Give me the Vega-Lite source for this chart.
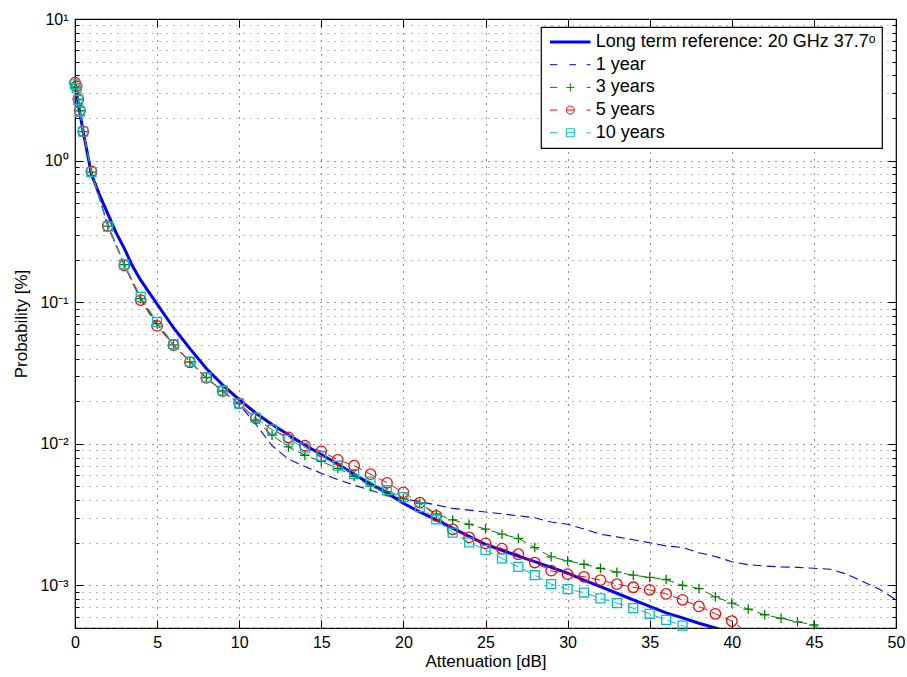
{
  "$schema": "https://vega.github.io/schema/vega-lite/v6.json",
  "width": 821,
  "height": 609,
  "autosize": {"type": "none"},
  "padding": {"left": 75, "top": 19, "right": 11, "bottom": 49},
  "background": "white",
  "config": {
    "font": "Liberation Sans",
    "view": {"stroke": "#000", "strokeWidth": 1.2},
    "axis": {
      "labelFont": "Liberation Sans", "labelFontSize": 16, "labelColor": "#000",
      "titleFont": "Liberation Sans", "titleFontSize": 17, "titleFontWeight": "normal", "titleColor": "#000",
      "tickColor": "#000", "tickWidth": 1, "domain": false, "labelFlush": false, "labelOverlap": false,
      "gridColor": "#222", "gridDash": [1, 6], "gridWidth": 1
    },
    "legend": {
      "orient": "none", "legendX": 466, "legendY": 8,
      "padding": 6, "strokeColor": "#000", "fillColor": "#fff", "strokeWidth": 1.2,
      "symbolSize": 324, "rowPadding": 4.7,
      "labelFont": "Liberation Sans", "labelFontSize": 18, "labelColor": "#000", "labelOffset": 30.7, "labelLimit": 500
    }
  },
  "datasets": {
    "d": [
      {"series":"ref","att":0,"prob":3.4},{"series":"ref","att":0.5,"prob":1.6},{"series":"ref","att":1,"prob":0.8},{"series":"ref","att":1.5,"prob":0.57},{"series":"ref","att":2,"prob":0.42},{"series":"ref","att":2.5,"prob":0.31},{"series":"ref","att":3,"prob":0.24},{"series":"ref","att":3.5,"prob":0.18},{"series":"ref","att":4,"prob":0.143},{"series":"ref","att":5,"prob":0.097},{"series":"ref","att":6,"prob":0.066},{"series":"ref","att":7,"prob":0.047},{"series":"ref","att":8,"prob":0.034},{"series":"ref","att":9,"prob":0.026},{"series":"ref","att":10,"prob":0.0205},{"series":"ref","att":11,"prob":0.0165},{"series":"ref","att":12,"prob":0.0137},{"series":"ref","att":13,"prob":0.0116},{"series":"ref","att":14,"prob":0.0098},{"series":"ref","att":15,"prob":0.0084},{"series":"ref","att":16,"prob":0.0072},{"series":"ref","att":17,"prob":0.0061},{"series":"ref","att":18,"prob":0.0052},{"series":"ref","att":19,"prob":0.0045},{"series":"ref","att":20,"prob":0.0038},{"series":"ref","att":21,"prob":0.0033},{"series":"ref","att":22,"prob":0.0029},{"series":"ref","att":23,"prob":0.00254},{"series":"ref","att":24,"prob":0.00222},{"series":"ref","att":25,"prob":0.00195},{"series":"ref","att":26,"prob":0.00177},{"series":"ref","att":27,"prob":0.00161},{"series":"ref","att":28,"prob":0.00147},{"series":"ref","att":29,"prob":0.00134},{"series":"ref","att":30,"prob":0.00122},{"series":"ref","att":31,"prob":0.00109},{"series":"ref","att":32,"prob":0.00098},{"series":"ref","att":33,"prob":0.00088},{"series":"ref","att":34,"prob":0.00079},{"series":"ref","att":35,"prob":0.00071},{"series":"ref","att":36,"prob":0.00064},{"series":"ref","att":37,"prob":0.00059},{"series":"ref","att":38,"prob":0.00054},{"series":"ref","att":39,"prob":0.0005},{"series":"ref","att":40,"prob":0.00046},

      {"series":"1y","att":0,"prob":3.5},{"series":"1y","att":0.1,"prob":3.3},{"series":"1y","att":0.2,"prob":2.7},{"series":"1y","att":0.3,"prob":2.25},{"series":"1y","att":0.5,"prob":1.6},{"series":"1y","att":1,"prob":0.83},{"series":"1y","att":2,"prob":0.35},{"series":"1y","att":3,"prob":0.186},{"series":"1y","att":4,"prob":0.106},{"series":"1y","att":5,"prob":0.07},{"series":"1y","att":6,"prob":0.05},{"series":"1y","att":7,"prob":0.038},{"series":"1y","att":8,"prob":0.0292},{"series":"1y","att":9,"prob":0.0235},{"series":"1y","att":10,"prob":0.019},{"series":"1y","att":11,"prob":0.0138},{"series":"1y","att":12,"prob":0.0097},{"series":"1y","att":13,"prob":0.0078},{"series":"1y","att":14,"prob":0.0069},{"series":"1y","att":15,"prob":0.0062},{"series":"1y","att":16,"prob":0.0056},{"series":"1y","att":17,"prob":0.0051},{"series":"1y","att":18,"prob":0.0047},{"series":"1y","att":19,"prob":0.0043},{"series":"1y","att":20,"prob":0.0041},{"series":"1y","att":21,"prob":0.0039},{"series":"1y","att":22,"prob":0.0037},{"series":"1y","att":23,"prob":0.0035},{"series":"1y","att":24,"prob":0.0034},{"series":"1y","att":25,"prob":0.0033},{"series":"1y","att":26,"prob":0.0032},{"series":"1y","att":27,"prob":0.0031},{"series":"1y","att":28,"prob":0.003},{"series":"1y","att":29,"prob":0.0028},{"series":"1y","att":30,"prob":0.0027},{"series":"1y","att":31,"prob":0.0025},{"series":"1y","att":32,"prob":0.0023},{"series":"1y","att":33,"prob":0.0022},{"series":"1y","att":34,"prob":0.0021},{"series":"1y","att":35,"prob":0.002},{"series":"1y","att":36,"prob":0.0019},{"series":"1y","att":37,"prob":0.00185},{"series":"1y","att":38,"prob":0.0017},{"series":"1y","att":39,"prob":0.0016},{"series":"1y","att":40,"prob":0.00147},{"series":"1y","att":41,"prob":0.0014},{"series":"1y","att":42,"prob":0.00137},{"series":"1y","att":43,"prob":0.00135},{"series":"1y","att":44,"prob":0.00134},{"series":"1y","att":45,"prob":0.00132},{"series":"1y","att":46,"prob":0.0013},{"series":"1y","att":47,"prob":0.0012},{"series":"1y","att":48,"prob":0.00106},{"series":"1y","att":49,"prob":0.00094},{"series":"1y","att":50,"prob":0.00079},

      {"series":"3y","att":0,"prob":3.5},{"series":"3y","att":0.1,"prob":3.3},{"series":"3y","att":0.2,"prob":2.7},{"series":"3y","att":0.3,"prob":2.25},{"series":"3y","att":0.5,"prob":1.6},{"series":"3y","att":1,"prob":0.83},{"series":"3y","att":2,"prob":0.344},{"series":"3y","att":3,"prob":0.184},{"series":"3y","att":4,"prob":0.106},{"series":"3y","att":5,"prob":0.0705},{"series":"3y","att":6,"prob":0.05},{"series":"3y","att":7,"prob":0.0378},{"series":"3y","att":8,"prob":0.0293},{"series":"3y","att":9,"prob":0.0236},{"series":"3y","att":10,"prob":0.0192},{"series":"3y","att":11,"prob":0.0147},{"series":"3y","att":12,"prob":0.0115},{"series":"3y","att":13,"prob":0.0095},{"series":"3y","att":14,"prob":0.0083},{"series":"3y","att":15,"prob":0.0075},{"series":"3y","att":16,"prob":0.0067},{"series":"3y","att":17,"prob":0.0059},{"series":"3y","att":18,"prob":0.005},{"series":"3y","att":19,"prob":0.0046},{"series":"3y","att":20,"prob":0.0041},{"series":"3y","att":21,"prob":0.0038},{"series":"3y","att":22,"prob":0.0032},{"series":"3y","att":23,"prob":0.0029},{"series":"3y","att":24,"prob":0.0027},{"series":"3y","att":25,"prob":0.0025},{"series":"3y","att":26,"prob":0.0023},{"series":"3y","att":27,"prob":0.00215},{"series":"3y","att":28,"prob":0.00185},{"series":"3y","att":29,"prob":0.00159},{"series":"3y","att":30,"prob":0.00149},{"series":"3y","att":31,"prob":0.00141},{"series":"3y","att":32,"prob":0.00132},{"series":"3y","att":33,"prob":0.00124},{"series":"3y","att":34,"prob":0.00118},{"series":"3y","att":35,"prob":0.00114},{"series":"3y","att":36,"prob":0.0011},{"series":"3y","att":37,"prob":0.001},{"series":"3y","att":38,"prob":0.00095},{"series":"3y","att":39,"prob":0.00083},{"series":"3y","att":40,"prob":0.00075},{"series":"3y","att":41,"prob":0.00068},{"series":"3y","att":42,"prob":0.00062},{"series":"3y","att":43,"prob":0.000585},{"series":"3y","att":44,"prob":0.000553},{"series":"3y","att":45,"prob":0.000525},{"series":"3y","att":46,"prob":0.00044},

      {"series":"5y","att":0,"prob":3.55},{"series":"5y","att":0.1,"prob":3.35},{"series":"5y","att":0.2,"prob":2.72},{"series":"5y","att":0.3,"prob":2.25},{"series":"5y","att":0.5,"prob":1.61},{"series":"5y","att":1,"prob":0.84},{"series":"5y","att":2,"prob":0.345},{"series":"5y","att":3,"prob":0.182},{"series":"5y","att":4,"prob":0.1035},{"series":"5y","att":5,"prob":0.068},{"series":"5y","att":6,"prob":0.0497},{"series":"5y","att":7,"prob":0.0376},{"series":"5y","att":8,"prob":0.0292},{"series":"5y","att":9,"prob":0.0236},{"series":"5y","att":10,"prob":0.0193},{"series":"5y","att":11,"prob":0.0151},{"series":"5y","att":12,"prob":0.0126},{"series":"5y","att":13,"prob":0.0111},{"series":"5y","att":14,"prob":0.0097},{"series":"5y","att":15,"prob":0.00885},{"series":"5y","att":16,"prob":0.0077},{"series":"5y","att":17,"prob":0.007},{"series":"5y","att":18,"prob":0.0061},{"series":"5y","att":19,"prob":0.0053},{"series":"5y","att":20,"prob":0.00454},{"series":"5y","att":21,"prob":0.00384},{"series":"5y","att":22,"prob":0.0031},{"series":"5y","att":23,"prob":0.00249},{"series":"5y","att":24,"prob":0.00218},{"series":"5y","att":25,"prob":0.00198},{"series":"5y","att":26,"prob":0.00182},{"series":"5y","att":27,"prob":0.00166},{"series":"5y","att":28,"prob":0.00145},{"series":"5y","att":29,"prob":0.00127},{"series":"5y","att":30,"prob":0.0012},{"series":"5y","att":31,"prob":0.00115},{"series":"5y","att":32,"prob":0.00109},{"series":"5y","att":33,"prob":0.00102},{"series":"5y","att":34,"prob":0.00097},{"series":"5y","att":35,"prob":0.00093},{"series":"5y","att":36,"prob":0.00087},{"series":"5y","att":37,"prob":0.00079},{"series":"5y","att":38,"prob":0.00071},{"series":"5y","att":39,"prob":0.00063},{"series":"5y","att":40,"prob":0.00056},{"series":"5y","att":41,"prob":0.00046},

      {"series":"10y","att":0,"prob":3.45},{"series":"10y","att":0.1,"prob":3.25},{"series":"10y","att":0.2,"prob":2.68},{"series":"10y","att":0.3,"prob":2.22},{"series":"10y","att":0.5,"prob":1.6},{"series":"10y","att":1,"prob":0.83},{"series":"10y","att":2,"prob":0.342},{"series":"10y","att":3,"prob":0.185},{"series":"10y","att":4,"prob":0.109},{"series":"10y","att":5,"prob":0.0725},{"series":"10y","att":6,"prob":0.0505},{"series":"10y","att":7,"prob":0.038},{"series":"10y","att":8,"prob":0.0294},{"series":"10y","att":9,"prob":0.0237},{"series":"10y","att":10,"prob":0.0192},{"series":"10y","att":11,"prob":0.0153},{"series":"10y","att":12,"prob":0.0126},{"series":"10y","att":13,"prob":0.0107},{"series":"10y","att":14,"prob":0.0094},{"series":"10y","att":15,"prob":0.0082},{"series":"10y","att":16,"prob":0.007},{"series":"10y","att":17,"prob":0.0061},{"series":"10y","att":18,"prob":0.0054},{"series":"10y","att":19,"prob":0.0047},{"series":"10y","att":20,"prob":0.0042},{"series":"10y","att":21,"prob":0.00357},{"series":"10y","att":22,"prob":0.00292},{"series":"10y","att":23,"prob":0.00236},{"series":"10y","att":24,"prob":0.00201},{"series":"10y","att":25,"prob":0.00178},{"series":"10y","att":26,"prob":0.00155},{"series":"10y","att":27,"prob":0.00135},{"series":"10y","att":28,"prob":0.00118},{"series":"10y","att":29,"prob":0.00102},{"series":"10y","att":30,"prob":0.00094},{"series":"10y","att":31,"prob":0.00089},{"series":"10y","att":32,"prob":0.00081},{"series":"10y","att":33,"prob":0.00075},{"series":"10y","att":34,"prob":0.00069},{"series":"10y","att":35,"prob":0.00063},{"series":"10y","att":36,"prob":0.00057},{"series":"10y","att":37,"prob":0.00052},{"series":"10y","att":38,"prob":0.00045}
    ]
  },
  "data": {"name": "d"},
  "resolve": {"axis": {"x": "independent", "y": "independent"}},
  "layer": [
    {
      "transform": [{"filter": "datum.series === 'ref'"}],
      "mark": {"type": "line", "strokeWidth": 3, "clip": true, "strokeJoin": "round"},
      "encoding": {
        "x": {"field": "att", "type": "quantitative", "scale": {"domain": [0, 50], "nice": false, "zero": false},
          "axis": {"orient": "bottom", "values": [0,5,10,15,20,25,30,35,40,45,50], "ticks": false, "grid": true, "labelPadding": 6, "title": "Attenuation [dB]", "titlePadding": 3}},
        "y": {"field": "prob", "type": "quantitative", "scale": {"type": "log", "domain": [0.0005, 10], "nice": false},
          "axis": {"orient": "left", "values": [0.001, 0.01, 0.1, 1, 10], "ticks": false, "grid": true, "labelPadding": 7, "labelBaseline": "middle",
            "labelExpr": "datum.value === 10 ? '10¹' : datum.value === 1 ? '10⁰' : datum.value === 0.1 ? '10⁻¹' : datum.value === 0.01 ? '10⁻²' : datum.value === 0.001 ? '10⁻³' : ''",
            "title": "Probability [%]", "titlePadding": 9}},
        "color": {"field": "series", "type": "nominal",
          "scale": {"domain": ["ref", "1y", "3y", "5y", "10y"], "range": ["#0000ff", "#0000ff", "#008000", "#ff0000", "#00bfbf"]},
          "legend": {
            "title": null,
            "labelExpr": "datum.value === 'ref' ? 'Long term reference: 20 GHz 37.7ᵒ     ' : datum.value === '1y' ? '1 year' : datum.value === '3y' ? '3 years' : datum.value === '5y' ? '5 years' : '10 years'",
            "encode": {
              "symbols": {"update": {
                "shape": {"signal": "datum.value === 'ref' ? 'M-0.667,0H3.84' : datum.value === '1y' ? 'M-0.667,0H0.144M1.48,0H2.22M3.41,0H3.84' : datum.value === '3y' ? 'M-0.667,0H0.144M1.146,0H2.034M1.59,-0.444V0.444M3.41,0H3.84' : datum.value === '5y' ? 'M-0.667,0H0.144M2.034,0A0.444,0.444,0,1,1,1.146,0A0.444,0.444,0,1,1,2.034,0M1.146,0H2.034M3.41,0H3.84' : 'M-0.667,0H0.144M1.146,-0.444H2.034V0.444H1.146ZM1.146,0H2.034M3.41,0H3.84'"},
                "size": {"value": 324},
                "strokeWidth": {"signal": "datum.value === 'ref' ? 3 : 1"},
                "stroke": {"scale": "color", "field": "value"},
                "fill": {"value": "transparent"},
                "opacity": {"value": 1},
                "strokeDash": {"value": []}
              }}
            }
          }}
      }
    },
    {
      "transform": [{"filter": "datum.series === '1y'"}],
      "mark": {"type": "line", "strokeWidth": 1.1, "strokeDash": [9, 5], "clip": true},
      "encoding": {
        "x": {"field": "att", "type": "quantitative", "axis": {"orient": "top", "values": [0,5,10,15,20,25,30,35,40,45,50], "ticks": true, "tickSize": -8, "labels": false, "grid": false, "title": null}},
        "y": {"field": "prob", "type": "quantitative", "axis": {"orient": "left", "values": [0.001, 0.01, 0.1, 1, 10], "ticks": true, "tickSize": -8, "labels": false, "grid": false, "title": null}},
        "color": {"field": "series", "type": "nominal"}
      }
    },
    {
      "transform": [{"filter": "datum.series === '3y'"}],
      "mark": {"type": "line", "strokeWidth": 1, "strokeDash": [9, 5], "clip": true},
      "encoding": {
        "x": {"field": "att", "type": "quantitative", "axis": {"orient": "bottom", "values": [0,5,10,15,20,25,30,35,40,45,50], "ticks": true, "tickSize": -8, "labels": false, "grid": false, "title": null}},
        "y": {"field": "prob", "type": "quantitative", "axis": {"orient": "right", "values": [0.001, 0.01, 0.1, 1, 10], "ticks": true, "tickSize": -8, "labels": false, "grid": false, "title": null}},
        "color": {"field": "series", "type": "nominal"}
      }
    },
    {
      "transform": [{"filter": "datum.series === '3y' && datum.prob >= 0.0005"}],
      "mark": {"type": "point", "shape": "M-1,0H1M0,-1V1", "filled": false, "size": 90, "strokeWidth": 1.3, "opacity": 1, "clip": false},
      "encoding": {
        "x": {"field": "att", "type": "quantitative", "axis": null},
        "y": {"field": "prob", "type": "quantitative", "axis": {"orient": "left", "values": [0.0005,0.0006,0.0007,0.0008,0.0009,0.002,0.003,0.004,0.005,0.006,0.007,0.008,0.009,0.02,0.03,0.04,0.05,0.06,0.07,0.08,0.09,0.2,0.3,0.4,0.5,0.6,0.7,0.8,0.9,2,3,4,5,6,7,8,9], "ticks": true, "tickSize": -4, "labels": false, "grid": true, "gridColor": "#777", "title": null}},
        "color": {"field": "series", "type": "nominal"}
      }
    },
    {
      "transform": [{"filter": "datum.series === '5y'"}],
      "mark": {"type": "line", "strokeWidth": 1, "strokeDash": [9, 5], "clip": true},
      "encoding": {
        "x": {"field": "att", "type": "quantitative", "axis": null},
        "y": {"field": "prob", "type": "quantitative", "axis": {"orient": "right", "values": [0.0005,0.0006,0.0007,0.0008,0.0009,0.002,0.003,0.004,0.005,0.006,0.007,0.008,0.009,0.02,0.03,0.04,0.05,0.06,0.07,0.08,0.09,0.2,0.3,0.4,0.5,0.6,0.7,0.8,0.9,2,3,4,5,6,7,8,9], "ticks": true, "tickSize": -4, "labels": false, "grid": false, "title": null}},
        "color": {"field": "series", "type": "nominal"}
      }
    },
    {
      "transform": [{"filter": "datum.series === '5y' && datum.prob >= 0.0005"}],
      "mark": {"type": "point", "shape": "circle", "filled": false, "size": 110, "strokeWidth": 1.3, "opacity": 1, "clip": false},
      "encoding": {
        "x": {"field": "att", "type": "quantitative", "axis": null},
        "y": {"field": "prob", "type": "quantitative", "axis": null},
        "color": {"field": "series", "type": "nominal"}
      }
    },
    {
      "transform": [{"filter": "datum.series === '10y'"}],
      "mark": {"type": "line", "strokeWidth": 1, "strokeDash": [9, 5], "clip": true},
      "encoding": {
        "x": {"field": "att", "type": "quantitative", "axis": null},
        "y": {"field": "prob", "type": "quantitative", "axis": null},
        "color": {"field": "series", "type": "nominal"}
      }
    },
    {
      "transform": [{"filter": "datum.series === '10y' && datum.prob >= 0.0005"}],
      "mark": {"type": "point", "shape": "square", "filled": false, "size": 80, "strokeWidth": 1.3, "opacity": 1, "clip": false},
      "encoding": {
        "x": {"field": "att", "type": "quantitative", "axis": null},
        "y": {"field": "prob", "type": "quantitative", "axis": null},
        "color": {"field": "series", "type": "nominal"}
      }
    }
  ]
}
